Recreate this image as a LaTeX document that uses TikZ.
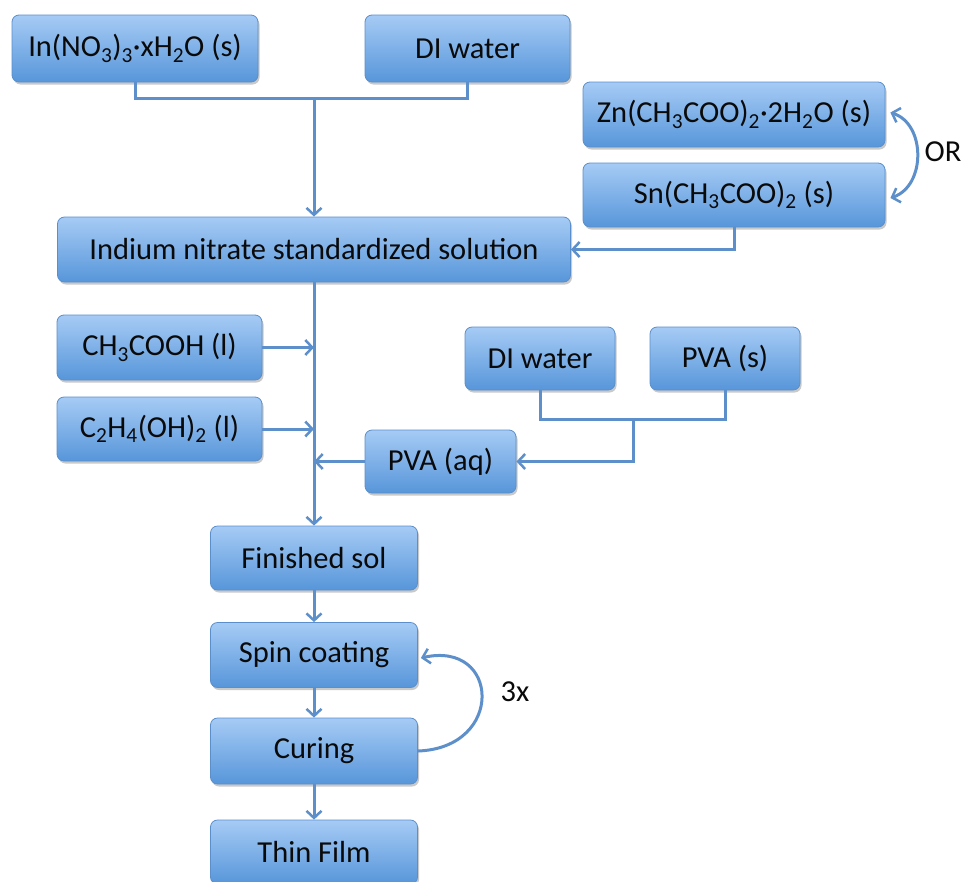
\documentclass[tikz,border=0pt]{standalone}
\usepackage{fontspec}
\setmainfont{Carlito}
\usetikzlibrary{arrows.meta,shadows}
\definecolor{boxtop}{HTML}{A6CBF5}
\definecolor{boxbot}{HTML}{5796DA}
\definecolor{boxline}{HTML}{5A8FCB}
\definecolor{conn}{HTML}{5D90CA}
\definecolor{txt}{HTML}{0A0A0A}
\tikzset{
  stepbox/.style={rectangle, rounded corners=7pt, draw=boxline, line width=0.8pt,
    top color=boxtop, bottom color=boxbot, text=txt, font=\fontsize{30.5}{34}\selectfont,
    inner sep=0pt, align=center,
    drop shadow={shadow xshift=1.5pt, shadow yshift=-2.5pt, opacity=0.35, fill=black!60}},
  conline/.style={draw=conn, line width=3pt},
  conarrow/.style={conline, -{Straight Barb[length=7pt,width=15pt,line width=2.5pt]}},
  lbl/.style={text=txt, font=\fontsize{30.5}{34}\selectfont}
}
\begin{document}
\begin{tikzpicture}[x=1pt,y=-1pt]
\useasboundingbox (0,0) rectangle (963,881);
\fill[white] (0,0) rectangle (963,881);
% nodes
\node[stepbox, minimum width=246pt, minimum height=67pt] (in) at (135,48.5) {In(NO\textsubscript{3})\textsubscript{3}·xH\textsubscript{2}O (s)};
\node[stepbox, minimum width=205pt, minimum height=67pt] (diw1) at (467.5,48.5) {DI water};
\node[stepbox, minimum width=513pt, minimum height=65pt] (ins) at (314,249.5) {Indium nitrate standardized solution};
\node[stepbox, minimum width=302pt, minimum height=65pt] (zn) at (734,114.5) {Zn(CH\textsubscript{3}COO)\textsubscript{2}·2H\textsubscript{2}O (s)};
\node[stepbox, minimum width=302pt, minimum height=64pt] (sn) at (734,195) {Sn(CH\textsubscript{3}COO)\textsubscript{2} (s)};
\node[stepbox, minimum width=205pt, minimum height=65pt] (ch) at (159.5,347.5) {CH\textsubscript{3}COOH (l)};
\node[stepbox, minimum width=205pt, minimum height=64pt] (c2) at (159.5,429) {C\textsubscript{2}H\textsubscript{4}(OH)\textsubscript{2} (l)};
\node[stepbox, minimum width=150pt, minimum height=63pt] (diw2) at (540,358.5) {DI water};
\node[stepbox, minimum width=150pt, minimum height=63pt] (pvas) at (725,358.5) {PVA (s)};
\node[stepbox, minimum width=151pt, minimum height=63pt] (pvaaq) at (440.5,461.5) {PVA (aq)};
\node[stepbox, minimum width=207pt, minimum height=64pt] (fin) at (314,558) {Finished sol};
\node[stepbox, minimum width=207pt, minimum height=65pt] (spin) at (314,655) {Spin coating};
\node[stepbox, minimum width=207pt, minimum height=66pt] (cur) at (314,751) {Curing};
\node[stepbox, minimum width=207pt, minimum height=64pt] (thin) at (314,852) {Thin Film};
\node[lbl] (or) at (943,152) {OR};
\node[lbl] (three) at (515,692) {3x};
% junctions
\coordinate (j1) at (314,98);
\coordinate (j2) at (633,419);
% connectors
\draw[conline] (in.south) |- (j1) -| (diw1.south);
\draw[conarrow] (j1) -- (ins.north);
\draw[conarrow] (sn.south) |- (ins.east);
\draw[conline, {Straight Barb[length=7pt,width=15pt,line width=2.5pt]}-{Straight Barb[length=7pt,width=15pt,line width=2.5pt]}]
  ([xshift=5pt,yshift=2pt]zn.east) .. controls (926,124) and (926,186) .. ([xshift=5pt,yshift=-3pt]sn.east);
\draw[conarrow] (ch.east) -- (ch.east -| ins.south);
\draw[conarrow] (c2.east) -- (c2.east -| ins.south);
\draw[conline] (diw2.south) |- (j2) -| (pvas.south);
\draw[conarrow] (j2) |- (pvaaq.east);
\draw[conarrow] (pvaaq.west) -- (pvaaq.west -| ins.south);
\draw[conarrow] (ins.south) -- (fin.north);
\draw[conarrow] (fin.south) -- (spin.north);
\draw[conarrow] (spin.south) -- (cur.north);
\draw[conarrow] (cur.south) -- (thin.north);
\draw[conarrow] (cur.east) .. controls (505,748) and (500,640) .. ([xshift=3pt,yshift=-3pt]spin.east);
\end{tikzpicture}
\end{document}
